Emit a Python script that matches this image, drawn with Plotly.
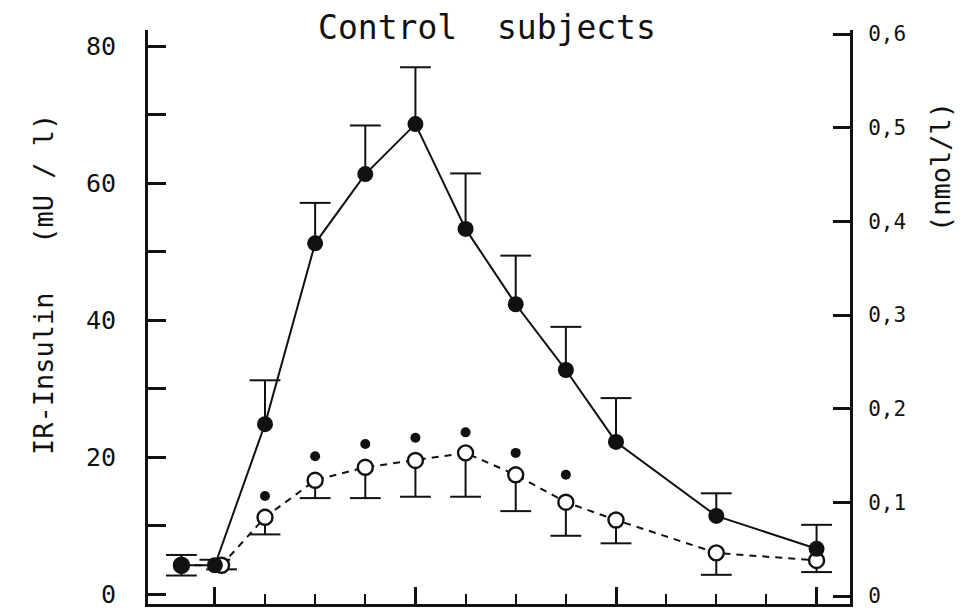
import plotly.graph_objects as go

# ---- data ----
t_ins = [-10, 0, 15, 30, 45, 60, 75, 90, 105, 120, 150, 180]
ins_mean = [4.2, 4.2, 24.8, 51.2, 61.3, 68.6, 53.3, 42.3, 32.7, 22.2, 11.4, 6.6]
ins_err = [1.5, 0.8, 6.4, 5.9, 7.1, 8.3, 8.1, 7.1, 6.3, 6.4, 3.3, 3.5]

t_open = [-10, 2, 15, 30, 45, 60, 75, 90, 105, 120, 150, 180]
open_mean = [4.2, 4.2, 11.2, 16.6, 18.5, 19.5, 20.6, 17.4, 13.4, 10.8, 6.0, 4.9]
open_err = [1.5, 0.6, 2.5, 2.6, 4.5, 5.3, 6.4, 5.3, 4.9, 3.4, 3.2, 1.7]

t_sig = [15, 30, 45, 60, 75, 90, 105]
sig_y = [14.3, 20.1, 21.9, 22.8, 23.6, 20.6, 17.4]

left_ticks = [0, 20, 40, 60, 80]
left_labels = ["0", "20", "40", "60", "80"]
left_minor = [10, 30, 50, 70]
right_ticks = [0, 0.1, 0.2, 0.3, 0.4, 0.5, 0.6]
right_labels = ["0", "0,1", "0,2", "0,3", "0,4", "0,5", "0,6"]
x_major = [0, 60, 120, 180]
x_minor = [15, 30, 45, 75, 90, 105, 135, 150, 165]

INK = "#111111"
FONT = "DejaVu Sans Mono"


def stems(xs, ys, errs, direction):
    sx, sy, cx, cy = [], [], [], []
    for x, y, e in zip(xs, ys, errs):
        tip = y + direction * e
        sx += [x, x, None]
        sy += [y, tip, None]
        cx.append(x)
        cy.append(tip)
    return sx, sy, cx, cy


fig = go.Figure()

# error bars (one-sided): filled upward, open downward
for xs, ys, errs, d in [(t_ins, ins_mean, ins_err, 1), (t_open, open_mean, open_err, -1)]:
    sx, sy, cx, cy = stems(xs, ys, errs, d)
    fig.add_trace(go.Scatter(x=sx, y=sy, mode="lines",
                             line=dict(color=INK, width=2), showlegend=False,
                             hoverinfo="skip"))
    fig.add_trace(go.Scatter(x=cx, y=cy, mode="markers",
                             marker=dict(symbol="line-ew", size=22,
                                         line=dict(color=INK, width=2)),
                             showlegend=False, hoverinfo="skip"))

fig.add_trace(go.Scatter(
    x=t_open, y=open_mean, mode="lines+markers",
    line=dict(color=INK, width=2, dash="7px,6px"),
    marker=dict(symbol="circle", size=15, color="white", line=dict(width=2.4, color=INK)),
    showlegend=False,
))

fig.add_trace(go.Scatter(
    x=t_ins, y=ins_mean, mode="lines+markers",
    line=dict(color=INK, width=2),
    marker=dict(symbol="circle", size=16, color=INK),
    showlegend=False,
))

fig.add_trace(go.Scatter(
    x=t_sig, y=sig_y, mode="markers",
    marker=dict(symbol="circle", size=10, color=INK),
    showlegend=False,
))

# right axis carrier
fig.add_trace(go.Scatter(x=[None], y=[None], yaxis="y2", showlegend=False))

fig.update_layout(
    width=965, height=611,
    paper_bgcolor="white", plot_bgcolor="white",
    margin=dict(l=148, r=115, t=30, b=7),
    font=dict(family=FONT, color=INK),
    title=dict(text="Control  subjects", x=487 / 965, xanchor="center",
               y=1 - 27 / 611, yanchor="middle",
               font=dict(family=FONT, size=33, color=INK)),
    xaxis=dict(range=[-20, 190], showgrid=False, zeroline=False, automargin=False,
               showline=True, linecolor=INK, linewidth=3,
               tickmode="array", tickvals=x_major, ticks="inside",
               ticklen=17, tickwidth=2.5, tickcolor=INK, showticklabels=False,
               minor=dict(tickmode="array", tickvals=x_minor, ticks="inside",
                          ticklen=10, tickwidth=2, tickcolor=INK)),
    yaxis=dict(range=[-1.46, 82.34], showgrid=False, zeroline=False, automargin=False,
               showline=True, linecolor=INK, linewidth=3,
               tickmode="array", tickvals=left_ticks, ticktext=left_labels,
               ticks="inside", ticklen=18, tickwidth=2.5, tickcolor=INK,
               tickfont=dict(family=FONT, size=25, color=INK),
               ticklabelstandoff=24,
               minor=dict(tickmode="array", tickvals=left_minor,
                          ticks="inside", ticklen=18, tickwidth=2.5, tickcolor=INK)),
    yaxis2=dict(range=[-0.0085, 0.6043], overlaying="y", side="right",
                showgrid=False, zeroline=False, automargin=False,
                showline=True, linecolor=INK, linewidth=3,
                tickmode="array", tickvals=right_ticks, ticktext=right_labels,
                ticks="inside", ticklen=17, tickwidth=2.5, tickcolor=INK,
                tickfont=dict(family=FONT, size=21, color=INK),
                ticklabelstandoff=11),
    annotations=[
        dict(text="IR-Insulin   (mU / l)", xref="paper", yref="paper",
             x=(43 - 148) / 702, y=(604 - 285) / 574, textangle=-90,
             showarrow=False, xanchor="center", yanchor="middle",
             font=dict(family=FONT, size=27, color=INK)),
        dict(text="(nmol/l)", xref="paper", yref="paper",
             x=(940 - 148) / 702, y=(604 - 167) / 574, textangle=-90,
             showarrow=False, xanchor="center", yanchor="middle",
             font=dict(family=FONT, size=27, color=INK)),
    ],
)

fig.write_html(
    "out.html",
    config={"displayModeBar": False},
    post_script="document.body.style.margin='0';document.body.style.overflow='hidden';",
)
